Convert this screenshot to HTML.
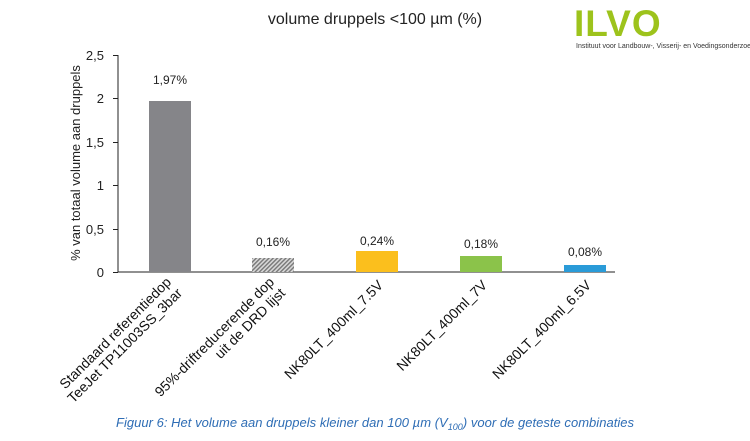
<!DOCTYPE html>
<html><head><style>body{margin:0;background:#fff}svg{display:block}</style></head>
<body>
<svg width="750" height="441" viewBox="0 0 750 441" font-family="Liberation Sans, Arial, sans-serif">
<defs><pattern id="h" width="3" height="3" patternUnits="userSpaceOnUse" patternTransform="rotate(45)"><rect width="3" height="3" fill="#d8d8d8"/><rect width="1.4" height="3" fill="#777"/></pattern></defs>
<text x="375" y="24" font-size="16" text-anchor="middle" fill="#222">volume druppels &lt;100 µm (%)</text>
<text x="574" y="36" font-size="37" font-weight="bold" fill="#9dc31c" letter-spacing="1">ILVO</text>
<text x="576" y="48" font-size="7" fill="#333">Instituut voor Landbouw-, Visserij- en Voedingsonderzoek</text>
<g font-size="13" fill="#222" text-anchor="end">
<text x="104" y="60">2,5</text><text x="104" y="103">2</text><text x="104" y="147">1,5</text>
<text x="104" y="190">1</text><text x="104" y="234">0,5</text><text x="104" y="277">0</text>
</g>
<g stroke="#222" stroke-width="1"><line x1="118" y1="55" x2="118" y2="272"/><line x1="118" y1="272" x2="615" y2="272"/>
<line x1="113" y1="55.5" x2="118" y2="55.5"/><line x1="113" y1="98.5" x2="118" y2="98.5"/><line x1="113" y1="142.5" x2="118" y2="142.5"/><line x1="113" y1="185.5" x2="118" y2="185.5"/><line x1="113" y1="229.5" x2="118" y2="229.5"/><line x1="113" y1="272.5" x2="118" y2="272.5"/></g>
<text transform="translate(80,163) rotate(-90)" font-size="13" text-anchor="middle" fill="#222">% van totaal volume aan druppels</text>
<rect x="149" y="101" width="42" height="171" fill="#858589"/>
<rect x="252" y="258" width="42" height="14" fill="url(#h)"/>
<rect x="356" y="251" width="42" height="21" fill="#fbbf1d"/>
<rect x="460" y="256" width="42" height="16" fill="#8bc34a"/>
<rect x="564" y="265" width="42" height="7" fill="#2a9bd8"/>
<g font-size="12" fill="#222" text-anchor="middle">
<text x="170" y="84">1,97%</text><text x="273" y="246">0,16%</text><text x="377" y="245">0,24%</text><text x="481" y="248">0,18%</text><text x="585" y="256">0,08%</text>
</g>
<g font-size="14" fill="#111" text-anchor="end">
<text transform="translate(172,283) rotate(-45)">Standaard referentiedop</text>
<text transform="translate(183,294) rotate(-45)">TeeJet TP11003SS_3bar</text>
<text transform="translate(275,283) rotate(-45)">95%-driftreducerende dop</text>
<text transform="translate(286,294) rotate(-45)">uit de DRD lijst</text>
<text transform="translate(384,286) rotate(-45)">NK80LT_400ml_7.5V</text>
<text transform="translate(488,286) rotate(-45)">NK80LT_400ml_7V</text>
<text transform="translate(592,286) rotate(-45)">NK80LT_400ml_6.5V</text>
</g>
<text x="375" y="427" font-size="13" font-style="italic" text-anchor="middle" fill="#2e6db5" textLength="518">Figuur 6: Het volume aan druppels kleiner dan 100 µm (V<tspan font-size="9" dy="3">100</tspan><tspan dy="-3">) voor de geteste combinaties</tspan></text>
</svg>
</body></html>
